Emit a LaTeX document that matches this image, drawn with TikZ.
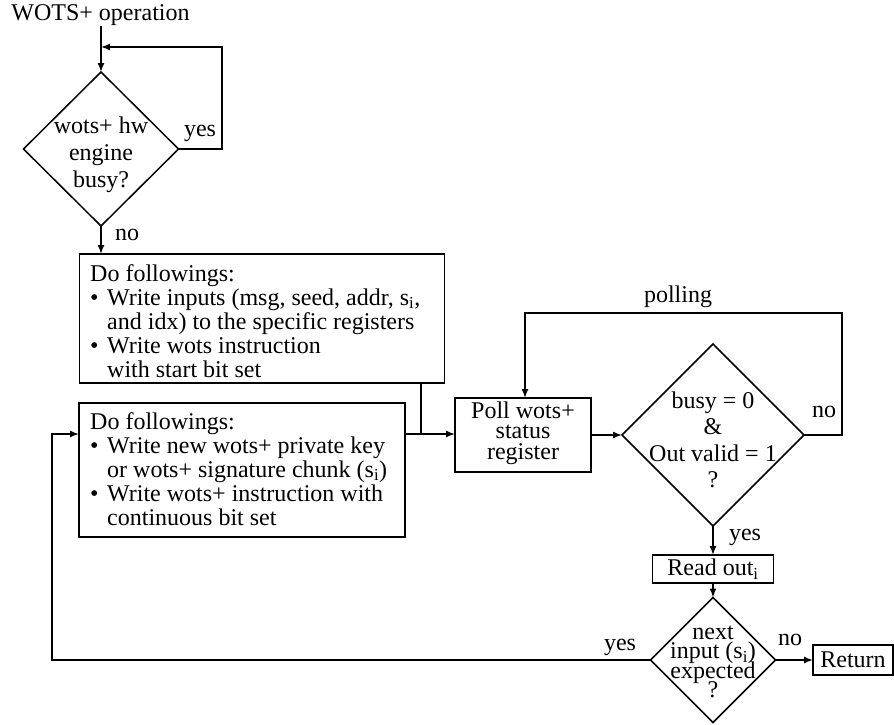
\documentclass[tikz,border=0pt]{standalone}
\usepackage{fontspec}
\setmainfont{Liberation Serif}
\usetikzlibrary{shapes.geometric,arrows.meta,calc}
\tikzset{
  lw/.style={line width=1.5pt},
  boxs/.style={draw, lw, rectangle, inner sep=0pt, outer sep=0pt},
  dias/.style={draw, lw, diamond, inner sep=0pt, outer sep=0pt},
  txt/.style={inner sep=0pt, align=left},
  ctxt/.style={inner sep=0pt, align=center},
  lbl/.style={inner sep=0pt},
  arr/.style={lw, -{Latex[length=9pt,width=7pt]}},
}
\newcommand{\fs}[1]{\fontsize{24}{#1}\selectfont\lineskiplimit=-50pt\lineskip=0pt}
\newcommand{\bul}{\makebox[17pt][l]{\textbullet}}
\newcommand{\ind}{\hspace*{17pt}}
\begin{document}
\begin{tikzpicture}[x=1pt,y=-1pt,font=\fs{24}]
\useasboundingbox (0,0) rectangle (894,724);
% top
\node[lbl] (title) at (100.5,15) {WOTS+ operation};
\node[dias, minimum width=155pt, minimum height=154pt] (d1) at (101,149) {};
\node[ctxt, font=\fs{27}] (d1t) at (101,155) {wots+ hw\\engine\\busy?};
\node[lbl] (y1) at (200,133) {yes};
\node[lbl] (n1) at (127,235) {no};
% box 1
\node[boxs, minimum width=365pt, minimum height=129pt] (b1) at (262,318.5) {};
\node[txt, anchor=north west] (b1t) at (90,264) {Do followings:\\\bul Write inputs (msg, seed, addr, s\textsubscript{i},\\\ind and idx) to the specific registers\\\bul Write wots instruction\\\ind with start bit set};
% box 2
\node[boxs, minimum width=326pt, minimum height=134pt] (b2) at (242,470) {};
\node[txt, anchor=north west] (b2t) at (90,412) {Do followings:\\\bul Write new wots+ private key\\\ind or wots+ signature chunk (s\textsubscript{i})\\\bul Write wots+ instruction with\\\ind continuous bit set};
% poll
\node[boxs, minimum width=136pt, minimum height=74pt] (poll) at (523,435) {};
\node[ctxt, font=\fs{20.5}] (pollt) at (523,433) {Poll wots+\\status\\register};
% diamond 2
\node[dias, minimum width=182pt, minimum height=182pt] (d2) at (713,435) {};
\node[ctxt, font=\fs{26.5}] (d2t) at (713,440) {busy = 0\\\&\\Out valid = 1\\?};
\node[lbl] (pl) at (678,297) {polling};
\node[lbl] (n2) at (824,412) {no};
\node[lbl] (y2) at (745,537) {yes};
% read
\node[boxs, minimum width=121pt, minimum height=28pt] (read) at (713,569) {Read out\textsubscript{i}};
% diamond 3
\node[dias, minimum width=125pt, minimum height=125pt] (d3) at (713,660) {};
\node[ctxt, font=\fs{19.5}] (d3t) at (713,662) {next\\input (s\textsubscript{i})\\expected\\?};
\node[boxs, minimum width=80pt, minimum height=30pt] (ret) at (853,660) {Return};
\node[lbl] (n3) at (790,640) {no};
\node[lbl] (y3) at (620,647) {yes};
% coordinates
\coordinate (j) at (421,434);
\coordinate (t1) at (101,47);
\coordinate (pt) at (525,313);
\coordinate (L) at (52,660);
% connectors
\draw[arr] (d1.north |- title.south) -- (d1.north);
\draw[arr] (d1.east) -- (222,149) |- (t1);
\draw[arr] (d1.south) -- (d1.south |- b1.north);
\draw[lw] (b1.south -| j) -- (j);
\draw[arr] (b2.east |- j) -- (poll.west |- j);
\draw[arr] (poll.east) -- (d2.west);
\draw[arr] (d2.east) -- (842,435) |- (pt) -- (pt |- poll.north);
\draw[arr] (d2.south) -- (read.north);
\draw[arr] (read.south) -- (d3.north);
\draw[arr] (d3.east) -- (ret.west);
\draw[arr] (d3.west) -- (L) |- (b2.west |- j);
\end{tikzpicture}
\end{document}
